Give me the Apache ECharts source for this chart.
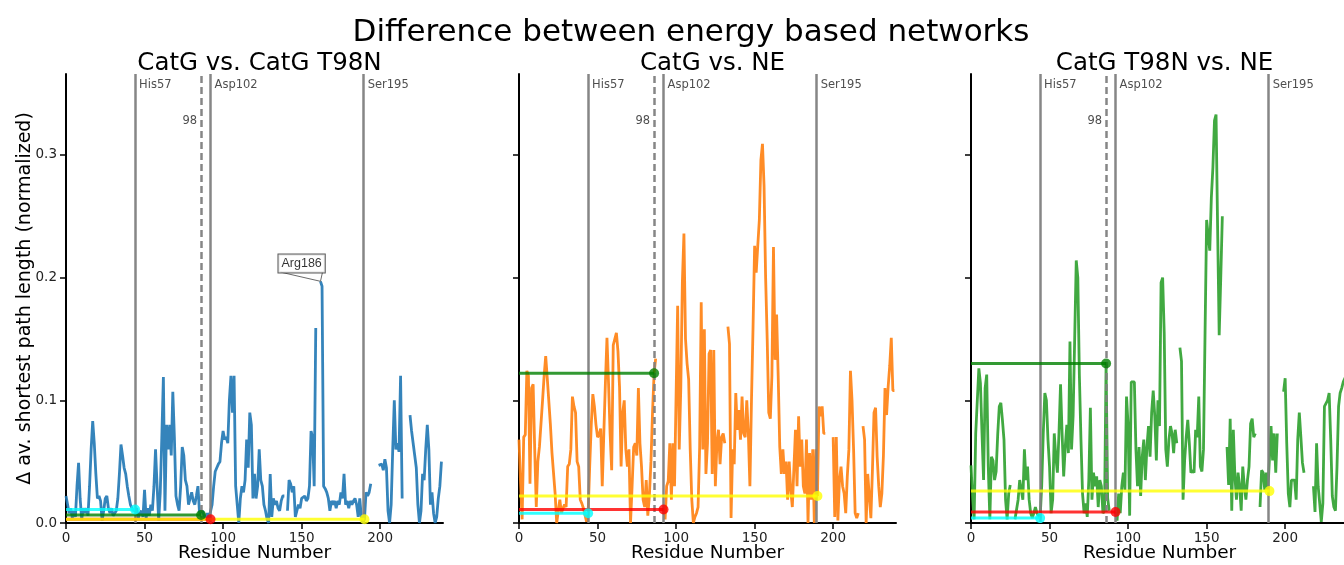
<!DOCTYPE html>
<html lang="en">
<head>
<meta charset="UTF-8" />
<title>Difference between energy based networks</title>
<style>
  html, body { margin: 0; padding: 0; background: #fff; }
  #main { width: 1344px; height: 565px; }
</style>
</head>
<body>
<div id="main"></div>
<script src="https://cdn.jsdelivr.net/npm/echarts@6/dist/echarts.min.js"></script>
<script>
/* globals echarts */

var panelTitles = ["CatG vs. CatG T98N", "CatG vs. NE", "CatG T98N vs. NE"];
var xTicks = [0, 50, 100, 150, 200];
var yTicks = [0, 0.1, 0.2, 0.3];

// marked residues (sequence index), label text
var siteNames = ["His57", "98", "Asp102", "Ser195"];
var siteLines = [44, 86, 92, 189.5];
var siteIdx = [44, 86, 92, 190];
var siteColors = ["#00ffff", "#008000", "#ff0000", "#ffff00"];

// delta av. shortest path length per residue index (null = missing)
var catgVsT98n = [
  0.022, 0.015, 0.008, 0.012, 0.004, 0.010, 0.005, 0.030, 0.049, 0.020,
  0.003, 0.012, 0.008, 0.012, 0.006, 0.030, 0.060, 0.083, 0.065, 0.040,
  0.020, 0.022, 0.018, 0.002, 0.010, 0.020, 0.022, 0.012, 0.008, 0.012,
  0.006, 0.005, 0.010, 0.020, 0.040, 0.064, 0.055, 0.045, 0.040, 0.030,
  0.022, 0.015, 0.012, 0.010, 0.011, 0.012, 0.004, 0.008, 0.010, 0.005,
  0.027, 0.004, 0.012, 0.006, 0.015, 0.010, 0.030, 0.060, 0.030, 0.002,
  0.025, 0.070, 0.119, 0.010, 0.080, 0.060, 0.080, 0.055, 0.107, 0.070,
  0.022, 0.015, 0.010, 0.030, 0.062, 0.055, 0.035, 0.030, 0.015, 0.020,
  0.025, 0.018, 0.015, 0.022, 0.030, 0.008, 0.0065, 0.010, 0.005, 0.003,
  0.008, 0.004, 0.003, 0.015, 0.030, 0.042, 0.045, 0.048, 0.050, 0.065,
  0.075, 0.068, 0.070, 0.065, 0.100, 0.120, 0.090, 0.120, 0.030, 0.015,
  0.000, 0.020, 0.030, 0.025, 0.035, 0.068, 0.045, 0.090, 0.080, 0.020,
  0.040, 0.020, 0.030, 0.060, 0.035, 0.030, 0.015, 0.010, 0.003, 0.000,
  0.040, 0.005, 0.020, 0.015, 0.018, 0.012, 0.010, 0.018, 0.022, 0.022,
  null, 0.010, 0.035, 0.032, 0.025, 0.030, 0.005, 0.010, 0.015, 0.012,
  0.020, 0.020, 0.022, 0.018, 0.020, 0.030, 0.075, 0.070, 0.030, 0.159,
  null, null, 0.197, 0.193, 0.030, 0.028, 0.025, 0.020, 0.010, 0.018,
  0.015, 0.018, 0.012, 0.018, 0.015, 0.025, 0.020, 0.040, 0.015, 0.018,
  0.012, 0.018, 0.015, 0.018, 0.020, 0.015, 0.005, 0.020, 0.005, 0.000,
  0.003, 0.025, 0.022, 0.025, 0.032, null, null, null, null, 0.047,
  0.046, 0.048, 0.043, 0.052, 0.045, 0.010, 0.000, 0.015, 0.060, 0.100,
  0.060, 0.065, 0.058, 0.120, 0.020, null, null, null, null, 0.088,
  0.075, 0.065, 0.055, 0.045, 0.015, 0.000, 0.010, 0.040, 0.035, 0.060,
  0.080, 0.060, 0.015, 0.025, 0.008, 0.000, 0.005, 0.020, 0.030, 0.050
];

var catgVsNe = [
  0.068, 0.032, 0.003, 0.070, 0.072, 0.124, 0.120, 0.032, 0.110, 0.113,
  0.060, 0.013, 0.050, 0.062, 0.062, 0.100, 0.120, 0.136, 0.118, 0.118,
  0.080, 0.057, 0.057, 0.024, 0.000, 0.010, 0.019, 0.008, 0.012, 0.015,
  0.013, 0.046, 0.048, 0.060, 0.103, 0.095, 0.090, 0.050, 0.046, 0.019,
  0.016, 0.012, 0.011, 0.001, 0.008, 0.046, 0.080, 0.105, 0.095, 0.080,
  0.070, 0.072, 0.077, 0.030, 0.073, 0.114, 0.151, 0.114, 0.073, 0.043,
  0.145, 0.145, 0.155, 0.140, 0.111, 0.046, 0.090, 0.100, 0.060, 0.046,
  0.060, 0.000, 0.030, 0.062, 0.065, 0.055, 0.110, 0.065, 0.046, 0.019,
  0.013, 0.035, 0.006, 0.022, 0.050, 0.090, 0.122, 0.134, null, null,
  null, null, 0.011, 0.003, 0.030, 0.034, 0.065, 0.019, 0.065, 0.030,
  0.030, 0.177, 0.060, 0.110, 0.196, 0.236, 0.150, 0.130, 0.117, 0.060,
  0.019, 0.000, 0.005, 0.008, 0.013, 0.062, 0.180, 0.060, 0.158, 0.040,
  0.065, 0.138, 0.141, 0.040, 0.141, 0.030, 0.065, 0.076, 0.048, 0.070,
  0.073, 0.065, null, 0.160, 0.146, 0.004, 0.060, 0.048, 0.106, 0.076,
  0.092, 0.068, 0.103, 0.073, 0.070, 0.100, 0.073, 0.030, 0.100, 0.160,
  0.226, 0.204, 0.226, 0.247, 0.296, 0.309, 0.275, 0.200, 0.150, 0.090,
  0.085, 0.120, 0.225, 0.133, 0.170, 0.120, 0.062, 0.040, 0.060, 0.040,
  0.050, 0.019, 0.050, 0.027, 0.013, 0.013, 0.076, 0.030, 0.087, 0.046,
  0.068, 0.030, 0.024, 0.068, 0.000, 0.057, 0.019, 0.060, 0.000, 0.060,
  0.022, 0.095, 0.087, 0.095, 0.073, 0.073, null, null, null, null,
  0.070, 0.005, 0.070, 0.002, 0.035, 0.046, 0.030, 0.024, 0.008, 0.038,
  0.060, 0.124, 0.100, 0.060, 0.008, 0.004, 0.008, null, null, 0.079,
  0.068, 0.000, 0.040, 0.040, 0.004, 0.043, 0.090, 0.094, 0.054, 0.030,
  0.013, 0.024, 0.055, 0.110, 0.088, 0.111, 0.128, 0.151, 0.108, 0.108
];

var t98nVsNe = [
  0.047, 0.020, 0.003, 0.073, 0.074, 0.126, 0.114, 0.073, 0.035, 0.110,
  0.121, 0.046, 0.003, 0.054, 0.051, 0.035, 0.042, 0.072, 0.095, 0.098,
  0.084, 0.068, 0.019, 0.003, 0.024, 0.031, null, null, 0.003, 0.003,
  0.019, 0.035, 0.035, 0.019, 0.060, 0.035, 0.046, 0.019, 0.008, 0.004,
  0.008, 0.013, 0.008, 0.008, 0.004, 0.030, 0.073, 0.106, 0.100, 0.068,
  0.046, 0.008, 0.019, 0.073, 0.054, 0.041, 0.073, 0.113, 0.073, 0.038,
  0.062, 0.080, 0.057, 0.148, 0.060, 0.087, 0.150, 0.214, 0.200, 0.120,
  0.068, 0.024, 0.008, 0.016, 0.005, 0.035, 0.094, 0.019, 0.041, 0.030,
  0.038, 0.013, 0.035, 0.030, 0.008, 0.010, 0.130, 0.020, 0.010, null,
  0.019, null, 0.009, 0.002, 0.024, 0.008, 0.030, 0.041, 0.027, 0.103,
  0.080, 0.006, 0.115, 0.115, 0.115, 0.060, 0.030, 0.062, 0.022, 0.054,
  0.068, 0.035, 0.062, 0.079, 0.054, 0.090, 0.108, 0.087, 0.051, 0.100,
  0.079, 0.196, 0.200, 0.155, 0.060, 0.046, 0.068, 0.079, 0.073, 0.057,
  0.076, 0.065, null, 0.143, 0.132, 0.019, 0.051, 0.070, 0.084, 0.065,
  0.041, 0.043, 0.041, 0.076, 0.070, 0.103, 0.046, 0.042, 0.060, 0.155,
  0.247, 0.247, 0.222, 0.265, 0.290, 0.328, 0.333, 0.240, 0.153, 0.200,
  0.250, null, null, 0.062, 0.031, 0.085, 0.010, 0.076, 0.038, 0.019,
  0.041, 0.030, 0.010, 0.046, 0.030, 0.019, 0.035, 0.046, 0.081, 0.085,
  0.070, 0.073, null, null, 0.013, 0.043, 0.041, 0.027, 0.041, 0.027,
  0.026, 0.079, 0.051, 0.073, 0.041, 0.073, null, null, null, 0.107,
  0.118, 0.065, 0.024, 0.013, 0.035, 0.036, 0.035, 0.019, 0.068, 0.090,
  0.070, 0.049, 0.041, null, null, null, null, null, 0.030, 0.009,
  0.065, 0.030, 0.016, 0.001, 0.016, 0.095, 0.096, 0.100, 0.106, 0.068,
  0.022, 0.013, 0.010, 0.046, 0.095, 0.106, 0.110, 0.115, 0.118, 0.120
];

var panelData = [catgVsT98n, catgVsNe, t98nVsNe];
var panelColors = ["#1f77b4", "#ff7f0e", "#2ca02c"];
var annotText = "Arg186";

var FONT = "DejaVu Sans";
var gridLefts = [66, 519, 971];
var Y_MAX = 0.366;

var chart = echarts.init(document.getElementById("main"));

var grids = [], xAxes = [], yAxes = [], series = [], titles = [];

// the figure is wider than the window, so the centre of the suptitle sits right of 672
titles.push({
  text: "Difference between energy based networks",
  left: 686, top: 12, textAlign: "center",
  textStyle: { fontFamily: FONT, fontSize: 31, fontWeight: "normal", color: "#000" }
});

panelData.forEach(function (vals, p) {
  // fixed matplotlib-like axes boxes; the last one runs past the right edge
  grids.push({ left: gridLefts[p], top: 74, width: 377, height: 449, outerBoundsMode: "none", containLabel: false });

  titles.push({
    text: panelTitles[p],
    left: gridLefts[p] + 188.5, top: 46, textAlign: "center",
    textStyle: { fontFamily: FONT, fontSize: 24.5, fontWeight: "normal", color: "#000" }
  });

  xAxes.push({
    gridIndex: p, type: "value", min: 0, max: 240,
    name: "Residue Number", nameLocation: "middle", nameGap: 21, nameMoveOverlap: false,
    nameTextStyle: { fontFamily: FONT, fontSize: 18.5, color: "#000" },
    axisLine: { show: true, onZero: false, lineStyle: { color: "#000", width: 2 } },
    axisTick: { show: true, length: 6, customValues: xTicks, lineStyle: { color: "#000", width: 1.5 } },
    axisLabel: { customValues: xTicks, fontFamily: FONT, fontSize: 13.5, color: "#222", margin: 8 },
    splitLine: { show: false }
  });

  yAxes.push({
    gridIndex: p, type: "value", min: 0, max: Y_MAX,
    name: p === 0 ? "\u0394 av. shortest path length (normalized)" : "",
    nameLocation: "middle", nameGap: 31, nameRotate: 90, nameMoveOverlap: false,
    nameTextStyle: { fontFamily: FONT, fontSize: 19, color: "#000" },
    axisLine: { show: true, lineStyle: { color: "#000", width: 2 } },
    axisTick: { show: true, length: 6, customValues: yTicks, lineStyle: { color: "#000", width: 1.5 } },
    axisLabel: {
      show: p === 0, customValues: yTicks, fontFamily: FONT, fontSize: 13.5, color: "#222", margin: 9,
      formatter: function (v) { return v.toFixed(1); }
    },
    splitLine: { show: false }
  });

  // main line with the marked residue lines
  series.push({
    type: "line", xAxisIndex: p, yAxisIndex: p,
    data: vals.map(function (v, i) { return [i, v === null ? "-" : v]; }),
    showSymbol: false, connectNulls: false,
    lineStyle: { color: panelColors[p], width: 2.8, opacity: 0.9 },
    itemStyle: { color: panelColors[p] },
    z: 3,
    markLine: {
      silent: true, symbol: "none", animation: false,
      label: { show: false },
      lineStyle: { color: "#808080", width: 2.5, type: "solid", opacity: 0.95 },
      data: siteLines.map(function (x, k) {
        var d = { xAxis: x };
        if (siteNames[k] === "98") d.lineStyle = { type: [7, 4], color: "#808080", width: 2.5 };
        return d;
      })
    }
  });

  // horizontal markers: value at each marked residue
  siteIdx.forEach(function (si, k) {
    var v = vals[si];
    series.push({
      type: "line", xAxisIndex: p, yAxisIndex: p,
      data: [
        { value: [0, v], symbol: "none" },
        { value: [si, v], symbol: "circle", symbolSize: 10 }
      ],
      showSymbol: true, showAllSymbol: true,
      lineStyle: { color: siteColors[k], width: 3, opacity: 0.8 },
      itemStyle: { color: siteColors[k], opacity: 0.8 },
      z: 5, silent: true
    });
  });

  // site labels
  series.push({
    type: "scatter", xAxisIndex: p, yAxisIndex: p, symbolSize: 0, silent: true,
    data: siteLines.map(function (x, k) {
      var isMut = siteNames[k] === "98";
      return {
        value: [x, isMut ? 0.328 : 0.357],
        label: {
          show: true, formatter: siteNames[k],
          position: isMut ? "left" : "right",
          distance: 4,
          fontFamily: FONT, fontSize: 11.5, color: "#222"
        }
      };
    }),
    z: 6
  });
});

// annotation of the biggest peak in the first panel
(function () {
  var vals = panelData[0];
  var m = 0;
  vals.forEach(function (v, i) { if (v !== null && v > vals[m]) m = i; });
  var tip = [m, vals[m]];
  var boxY = tip[1] + 0.0145;
  series.push({
    type: "line", xAxisIndex: 0, yAxisIndex: 0, silent: true, showSymbol: false,
    data: [[tip[0] - 25.4, tip[1] + 0.0075], tip, [tip[0] + 1.3, tip[1] + 0.0075]],
    lineStyle: { color: "#444", width: 0.8 }, z: 7
  });
  series.push({
    type: "scatter", xAxisIndex: 0, yAxisIndex: 0, symbolSize: 0, silent: true,
    data: [{
      value: [tip[0] - 12, boxY],
      label: {
        show: true, position: "inside", formatter: annotText,
        fontFamily: "Liberation Sans", fontSize: 12.5, color: "#000",
        backgroundColor: "#fff", borderColor: "#333", borderWidth: 1,
        padding: [3, 3, 2, 3]
      }
    }],
    z: 8
  });
})();

chart.setOption({
  animation: false,
  backgroundColor: "#fff",
  title: titles,
  grid: grids,
  xAxis: xAxes,
  yAxis: yAxes,
  series: series
});
</script>
</body>
</html>
